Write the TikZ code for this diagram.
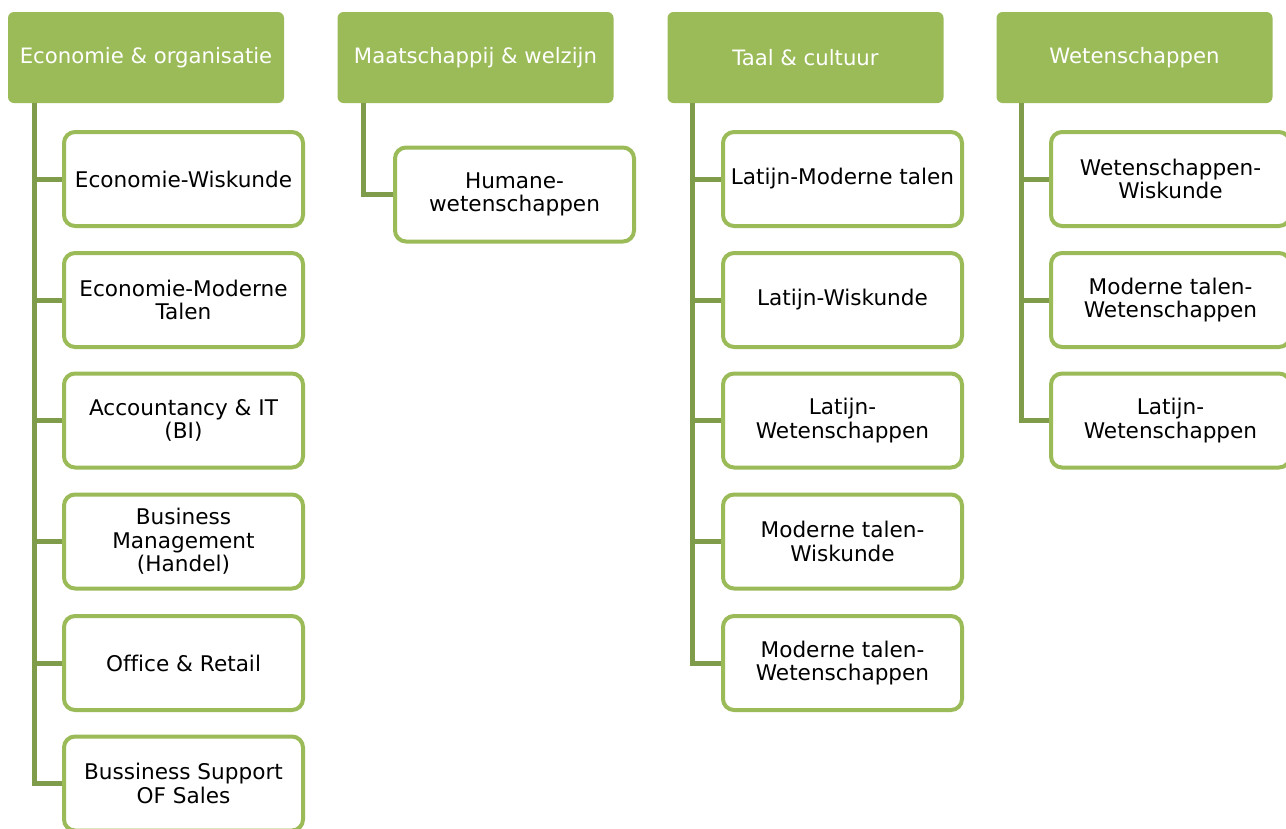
\documentclass[tikz,border=0pt]{standalone}
\usepackage{fontspec}
\setmainfont[Ligatures=NoCommon]{DejaVu Sans}
\definecolor{hdr}{HTML}{9BBB59}
\definecolor{brd}{HTML}{9BBB59}
\definecolor{con}{HTML}{7E9C4A}
\begin{document}
\begin{tikzpicture}[x=1pt,y=-1pt,
  header/.style={fill=hdr, draw=none, rounded corners=6pt, minimum width=276pt, minimum height=91pt,
    text=white, font=\fontsize{21.2}{24}\selectfont, align=center, inner sep=0pt},
  child/.style={fill=white, draw=brd, line width=4pt, rounded corners=11pt, minimum width=239pt, minimum height=94pt,
    text=black, font=\fontsize{21.6}{23.5}\selectfont, align=center, inner sep=2pt},
  conn/.style={draw=con, line width=5pt}]
\useasboundingbox (0,0) rectangle (1286,828);
\begin{scope}
\clip (0,0) rectangle (1286,828);
% headers
\node[header] (h1) at (146,57.5) {Economie \& organisatie};
\node[header] (h2) at (475.5,57.5) {Maatschappij \& welzijn};
\node[header] (h3) at (805.5,57.5) {Taal \& cultuur};
\node[header] (h4) at (1134.5,57.5) {Wetenschappen};
% column 1
\node[child] (a1) at (183.5,179) {Economie-Wiskunde};
\node[child] (a2) at (183.5,300) {Economie-Moderne\\Talen};
\node[child] (a3) at (183.5,420.5) {Accountancy \& IT\\(BI)};
\node[child] (a4) at (183.5,541.5) {Business\\Management\\(Handel)};
\node[child] (a5) at (183.5,663) {Office \& Retail};
\node[child] (a6) at (183.5,783.5) {Bussiness Support\\OF Sales};
% column 2
\node[child] (b1) at (514.5,194.5) {Humane-\\wetenschappen};
% column 3
\node[child] (c1) at (842.5,179) {Latijn-Moderne talen};
\node[child] (c2) at (842.5,300) {Latijn-Wiskunde};
\node[child] (c3) at (842.5,420.5) {Latijn-\\Wetenschappen};
\node[child] (c4) at (842.5,541.5) {Moderne talen-\\Wiskunde};
\node[child] (c5) at (842.5,663) {Moderne talen-\\Wetenschappen};
% column 4
\node[child] (d1) at (1170.5,179) {Wetenschappen-\\Wiskunde};
\node[child] (d2) at (1170.5,300) {Moderne talen-\\Wetenschappen};
\node[child] (d3) at (1170.5,420.5) {Latijn-\\Wetenschappen};
% connectors
\foreach \n in {a1,a2,a3,a4,a5,a6}
  \draw[conn] ([xshift=27pt]h1.south west) |- (\n.west);
\draw[conn] ([xshift=26pt]h2.south west) |- (b1.west);
\foreach \n in {c1,c2,c3,c4,c5}
  \draw[conn] ([xshift=25pt]h3.south west) |- (\n.west);
\foreach \n in {d1,d2,d3}
  \draw[conn] ([xshift=25pt]h4.south west) |- (\n.west);
\end{scope}
\end{tikzpicture}
\end{document}
